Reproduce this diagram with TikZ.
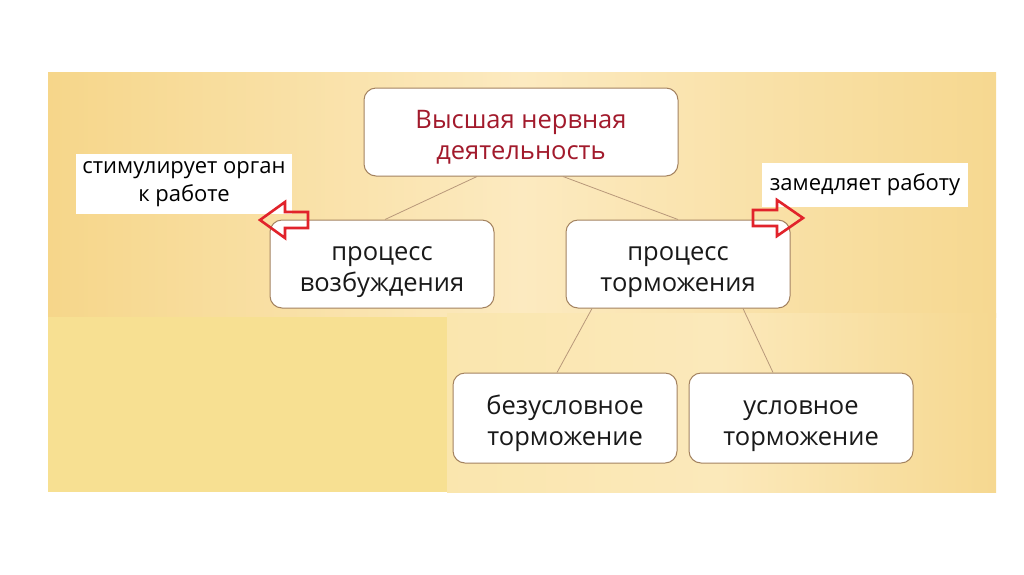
\documentclass[tikz,border=0pt]{standalone}
\usepackage{fontspec}
\setmainfont{Open Sans}
\usepackage{xcolor}
\usepackage{tikz}
\usetikzlibrary{positioning, calc}

\definecolor{panelgold}{HTML}{F6D68A}
\definecolor{panellight}{HTML}{FCEAC0}
\definecolor{panelright}{HTML}{F6D890}
\definecolor{lowgold}{HTML}{F7E092}
\definecolor{lowlight}{HTML}{FAE6AE}
\definecolor{boxedge}{HTML}{A3825F}
\definecolor{linkbrown}{HTML}{B8987A}
\definecolor{titlered}{HTML}{A21A2C}
\definecolor{arrowred}{HTML}{E1232B}

\tikzset{
  block/.style={
    rectangle,
    rounded corners=12pt,
    draw=boxedge,
    line width=1pt,
    fill=white,
    minimum width=224pt,
    minimum height=88pt,
    text height=54pt,
    text depth=0pt,
    align=center,
    text=black!90,
    font=\fontsize{25.5}{31}\selectfont
  },
  note/.style={
    rectangle,
    fill=white,
    align=center,
    text=black,
    font=\fontsize{22}{28}\selectfont
  },
  link/.style={
    linkbrown,
    line width=0.8pt
  },
  hollowarrow/.style={
    draw=arrowred,
    line width=2.6pt,
    line join=miter
  }
}

\begin{document}
\begin{tikzpicture}[x=1pt, y=-1pt]
  \useasboundingbox (0,0) rectangle (1024,574);

  % Background panel
  \shade[left color=panelgold, right color=panelright, middle color=panellight] (48,72) rectangle (996,317);
  \fill[lowgold] (48,317) rectangle (447,492);
  \shade[left color=lowlight, right color=panelright, middle color=panellight!70!lowlight] (447,313) rectangle (996,492);

  % Blocks
  \node (hnd) [block, minimum width=314pt, text=titlered] at (521,132) {Высшая нервная\\деятельность};
  \node (exc) [block] at (382,264) {процесс\\возбуждения};
  \node (inh) [block] at (678,264) {процесс\\торможения};
  \node (uncond) [block, minimum height=90pt] at (565,418) {безусловное\\торможение};
  \node (cond) [block, minimum height=90pt] at (801,418) {условное\\торможение};

  % Notes
  \node (stim) [note, minimum width=216pt, minimum height=60pt] at (184,184) {стимулирует орган\\к работе};
  \node (slow) [note, minimum width=206pt, minimum height=44pt] at (865,185) {замедляет работу};

  % Links
  \draw[link] ([xshift=-44pt]hnd.south) -- ([xshift=3pt]exc.north);
  \draw[link] ([xshift=42pt]hnd.south) -- (inh.north);
  \draw[link] ([xshift=-86pt]inh.south) -- ([xshift=-8pt]uncond.north);
  \draw[link] ([xshift=65pt]inh.south) -- ([xshift=-28pt]cond.north);

  % Hollow arrows
  \coordinate (stimtip) at (260,220);
  \coordinate (slowtip) at (803,218);
  \draw[hollowarrow] (stimtip) -- ++(25,-18) -- ++(0,10) -- ++(23,0) -- ++(0,16)
    -- ++(-23,0) -- ++(0,10) -- cycle;
  \draw[hollowarrow] (slowtip) -- ++(-26,-18) -- ++(0,10) -- ++(-24,0) -- ++(0,16)
    -- ++(24,0) -- ++(0,10) -- cycle;
\end{tikzpicture}
\end{document}
